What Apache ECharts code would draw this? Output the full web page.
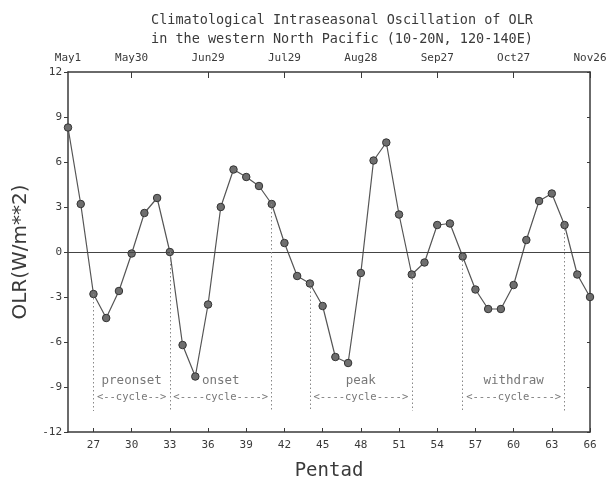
<!DOCTYPE html>
<html><head><meta charset="utf-8">
<script src="https://cdn.jsdelivr.net/npm/echarts@6/dist/echarts.min.js"></script>
<style>html,body{margin:0;padding:0;background:#fff}#c{width:611px;height:482px}</style>
</head><body><div id="c"></div>
<script>
var pentads = [25,26,27,28,29,30,31,32,33,34,35,36,37,38,39,40,41,42,43,44,45,46,47,48,49,50,51,52,53,54,55,56,57,58,59,60,61,62,63,64,65,66];
var olr = [8.3,3.2,-2.8,-4.4,-2.6,-0.1,2.6,3.6,0.0,-6.2,-8.3,-3.5,3.0,5.5,5.0,4.4,3.2,0.6,-1.6,-2.1,-3.6,-7.0,-7.4,-1.4,6.1,7.3,2.5,-1.5,-0.7,1.8,1.9,-0.3,-2.5,-3.8,-3.8,-2.2,0.8,3.4,3.9,1.8,-1.5,-3.0];
var bottomTicks = [27,30,33,36,39,42,45,48,51,54,57,60,63,66];
var topTicks = [25,30,36,42,48,54,60,66];
var topLabels = ['May1','May30','Jun29','Jul29','Aug28','Sep27','Oct27','Nov26'];
var boundaries = [27,33,41,44,52,56,64];
var dropTo = -10.6;
var cycleNames = ['preonset','onset','peak','withdraw'];
var cycleSpans = [[27,33],[33,41],[44,52],[56,64]];
var cycleArrows = ['<--cycle-->','<----cycle---->','<----cycle---->','<----cycle---->'];
var nameLevel = -8.6, arrowLevel = -9.7;

var mono = 'DejaVu Sans Mono';
var ink = '#3a3a3a';
var chart = echarts.init(document.getElementById('c'), null, {renderer:'canvas'});

var dropLines = boundaries.map(function(p){
  return [{coord:[p, olr[pentads.indexOf(p)]]},{coord:[p, dropTo]}];
});
var annot = [];
cycleSpans.forEach(function(s,i){
  var mid = (s[0]+s[1])/2;
  annot.push({value:[mid,nameLevel], label:{formatter:cycleNames[i], fontSize:12.5}});
  annot.push({value:[mid,arrowLevel], label:{formatter:cycleArrows[i], fontSize:10.5}});
});

chart.setOption({
  animation:false,
  title:{text:'Climatological Intraseasonal Oscillation of OLR\nin the western North Pacific (10-20N, 120-140E)',
    left:146, top:6, textStyle:{fontFamily:mono, fontSize:13.5, fontWeight:'normal', color:ink, lineHeight:19}},
  grid:{left:68, right:21, top:72, bottom:50, outerBoundsMode:'none', containLabel:false},
  xAxis:[{
    type:'value', min:25, max:66, position:'bottom',
    name:'Pentad', nameLocation:'middle', nameGap:30,
    nameTextStyle:{fontFamily:mono, fontSize:19, color:ink},
    axisLine:{onZero:false, lineStyle:{color:ink, width:1.5}},
    axisTick:{customValues:bottomTicks, inside:true, length:4, lineStyle:{color:ink}},
    axisLabel:{customValues:bottomTicks, fontFamily:mono, fontSize:11, color:ink, margin:8},
    splitLine:{show:false}
  },{
    type:'value', min:25, max:66, position:'top',
    axisLine:{onZero:false, lineStyle:{color:ink, width:1.5}},
    axisTick:{customValues:topTicks.slice(1), inside:true, length:6, lineStyle:{color:ink}},
    axisLabel:{customValues:topTicks, fontFamily:mono, fontSize:11, color:ink, margin:8,
      formatter:function(v){var i=topTicks.indexOf(v);return i<0?'':topLabels[i];}},
    splitLine:{show:false}
  }],
  yAxis:[{
    type:'value', min:-12, max:12, interval:3, position:'left',
    name:'OLR(W/m**2)', nameLocation:'middle', nameGap:26,
    nameTextStyle:{fontFamily:'DejaVu Sans', fontSize:20, color:ink},
    axisLine:{show:true, onZero:false, lineStyle:{color:ink, width:1.5}},
    axisTick:{show:true, length:4, lineStyle:{color:ink}},
    axisLabel:{fontFamily:mono, fontSize:11, color:ink, margin:6},
    splitLine:{show:false}
  },{
    type:'value', min:-12, max:12, interval:3, position:'right',
    axisLine:{show:true, onZero:false, lineStyle:{color:ink, width:1.5}},
    axisTick:{show:true, inside:true, length:3, lineStyle:{color:ink}},
    axisLabel:{show:false}, splitLine:{show:false}
  }],
  series:[{
    type:'line', data:pentads.map(function(p,i){return [p,olr[i]];}),
    lineStyle:{color:'#555', width:1.2},
    symbol:'circle', symbolSize:7.5,
    itemStyle:{color:'#6e6e6e', borderColor:'#333', borderWidth:1},
    markLine:{silent:true, symbol:'none', label:{show:false}, animation:false,
      data:[{yAxis:0, lineStyle:{type:'solid', color:'#444', width:1.2}}].concat(dropLines),
      lineStyle:{type:[1.5,2.5], color:'#888', width:1}
    },
    z:3
  },{
    type:'scatter', data:annot, symbolSize:0, silent:true,
    label:{show:true, position:'inside', fontFamily:mono, color:'#555'}
  }]
});
</script></body></html>
